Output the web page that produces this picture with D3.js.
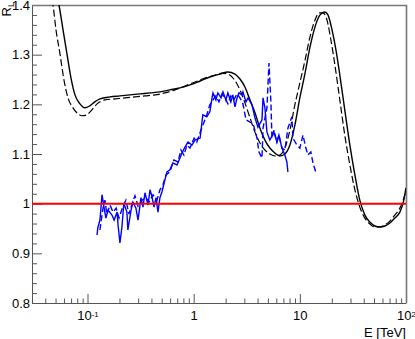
<!DOCTYPE html>
<html>
<head>
<meta charset="utf-8">
<script src="https://cdn.jsdelivr.net/npm/d3@7"></script>
<style>
  body { margin: 0; background: #fff; }
  svg { display: block; font-family: "Liberation Sans", Arial, sans-serif; }
</style>
</head>
<body>
<div id="chart"></div>
<script>
// energy E in TeV and ratio R_L

// black solid curve
var solidE = [0.0505,0.0539,0.0588,0.0641,0.0699,0.0762,0.0849,0.0946,0.105,0.117,0.131,0.163,0.202,0.251,0.312,0.388,0.481,0.597,0.743,0.923,1.15,1.42,1.77,2.10,2.45,2.73,3.04,3.39,3.78,4.21,4.69,5.22,5.82,6.49,7.23,8.06,8.98,10.0,11.2,12.4,13.9,15.5,17.2,18.4,20.1,21.9,23.8,26.5,29.6,33.0,36.7,41.0,45.7,50.9,56.7,63.2,70.5,78.5,87.5,95.4,99.8];
var solidR = [1.43,1.40,1.35,1.301,1.253,1.219,1.201,1.193,1.197,1.205,1.211,1.215,1.217,1.219,1.221,1.223,1.225,1.229,1.233,1.239,1.247,1.255,1.261,1.265,1.261,1.251,1.235,1.209,1.183,1.152,1.128,1.112,1.102,1.096,1.100,1.118,1.158,1.213,1.263,1.313,1.356,1.380,1.386,1.380,1.350,1.309,1.259,1.189,1.118,1.058,1.007,0.977,0.963,0.955,0.953,0.955,0.961,0.971,0.983,1.007,1.032];

// black dashed curve
var dashE = [0.0443,0.0473,0.0505,0.0551,0.0600,0.0655,0.0730,0.0813,0.0887,0.0989,0.110,0.123,0.146,0.182,0.225,0.280,0.348,0.432,0.536,0.667,0.828,1.03,1.28,1.59,1.85,2.10,2.39,2.73,3.04,3.39,3.78,4.21,4.69,5.22,5.82,6.49,7.23,8.06,8.98,10.0,11.2,12.4,13.9,15.2,16.5,18.0,19.6,21.4,23.8,26.5,29.6,33.0,36.7,41.0,45.7,50.9,56.7,63.2,70.5,78.5,87.5,95.4,99.8];
var dashR = [1.43,1.40,1.35,1.301,1.249,1.213,1.193,1.181,1.177,1.179,1.189,1.201,1.209,1.211,1.213,1.215,1.217,1.219,1.223,1.229,1.237,1.245,1.253,1.259,1.263,1.261,1.251,1.229,1.203,1.173,1.144,1.122,1.108,1.100,1.096,1.098,1.112,1.148,1.199,1.243,1.289,1.334,1.370,1.384,1.384,1.370,1.330,1.279,1.209,1.138,1.078,1.028,0.993,0.971,0.959,0.953,0.953,0.957,0.965,0.977,0.991,1.011,1.028];

// blue solid (measured)
var blueE = [0.123,0.125,0.131,0.137,0.143,0.149,0.156,0.170,0.178,0.190,0.194,0.202,0.211,0.220,0.235,0.240,0.257,0.268,0.286,0.299,0.319,0.333,0.348,0.371,0.388,0.405,0.423,0.442,0.461,0.481,0.503,0.536,0.560,0.597,0.637,0.696,0.743,0.776,0.828,0.884,0.964,1.03,1.15,1.22,1.33,1.42,1.49,1.52,1.62,1.69,1.81,1.89,2.01,2.10,2.24,2.34,2.45,2.56,2.67,2.85,2.91,3.11,3.25,3.54,3.78,4.03,4.40,4.50,4.69,4.90,5.22,5.70,6.08,6.35,6.78,7.23,7.55,7.72];
var blueR = [0.937,0.951,0.967,1.018,0.993,0.971,0.987,0.977,0.967,0.983,0.957,0.921,0.953,1.001,0.983,0.947,0.987,1.003,0.991,0.967,1.012,0.993,1.022,0.997,1.028,1.014,0.993,1.012,0.983,1.012,1.024,1.048,1.064,1.068,1.082,1.078,1.092,1.102,1.114,1.124,1.118,1.128,1.132,1.179,1.175,1.185,1.213,1.223,1.209,1.223,1.213,1.225,1.209,1.223,1.205,1.219,1.195,1.213,1.223,1.219,1.225,1.205,1.213,1.199,1.173,1.154,1.169,1.213,1.193,1.144,1.128,1.144,1.124,1.138,1.112,1.098,1.084,1.064];

// blue dashed (measured)
var blueDashE = [0.131,0.134,0.140,0.146,0.152,0.163,0.174,0.186,0.198,0.216,0.230,0.246,0.262,0.280,0.299,0.326,0.355,0.379,0.414,0.451,0.481,0.514,0.548,0.597,0.651,0.711,0.759,0.810,0.865,0.923,1.01,1.07,1.17,1.25,1.33,1.42,1.52,1.62,1.73,1.85,1.97,2.10,2.24,2.39,2.56,2.73,2.91,3.11,3.39,3.62,3.95,4.12,4.40,4.50,4.90,5.12,5.34,5.46,5.70,6.08,6.35,6.78,7.23,7.72,8.42,8.60,9.38,10.0,10.7,11.4,11.9,12.7,13.3,14.2];
var blueDashR = [0.947,0.963,0.991,1.007,0.979,0.997,0.983,0.991,0.971,0.995,1.007,0.979,0.999,1.016,0.995,1.007,1.012,1.003,1.018,1.007,1.028,1.038,1.058,1.064,1.088,1.084,1.108,1.098,1.118,1.112,1.132,1.124,1.148,1.164,1.179,1.199,1.209,1.217,1.205,1.221,1.213,1.201,1.217,1.209,1.221,1.213,1.201,1.169,1.164,1.162,1.132,1.104,1.092,1.152,1.193,1.283,1.205,1.132,1.148,1.124,1.138,1.112,1.108,1.152,1.175,1.132,1.118,1.112,1.138,1.112,1.098,1.104,1.082,1.062];

// reference level
var refLevel = 1;

// axes
var yMajor = [0.8, 0.9, 1, 1.1, 1.2, 1.3, 1.4];
var yLabels = ["0.8", "0.9", "1", "1.1", "1.2", "1.3", "1.4"];
var xMajor = [0.1, 1, 10, 100];
var xLabelBase = ["10", "1", "10", "10"];
var xLabelExp = ["-1", "", "", "2"];

var W = 415, H = 339;
var padL = 32, padR = 406, padT = 5, padB = 303;

var svg = d3.select("#chart").append("svg")
    .attr("width", W)
    .attr("height", H);

var x = d3.scaleLog().domain([0.03, 100]).range([padL, padR]);
var y = d3.scaleLinear().domain([0.8, 1.4]).range([padB, padT]);

// minor ticks
var xMinor = [];
[0.01, 0.1, 1, 10].forEach(function (dec) {
    for (var k = 2; k <= 9; k++) {
        var v = dec * k;
        if (v > 0.03 && v < 100) xMinor.push(v);
    }
});
var yMinor = d3.range(0.82, 1.4, 0.02).filter(function (v) {
    return Math.abs(v * 10 - Math.round(v * 10)) > 0.01;
});

var axisColor = "#555";

// x axis
svg.append("g")
    .attr("transform", "translate(0," + padB + ")")
    .call(d3.axisBottom(x).tickValues(xMinor).tickSize(-4.5).tickSizeOuter(0).tickFormat(""))
    .call(function (g) { g.select(".domain").remove(); })
    .selectAll("line").attr("stroke", axisColor);

var gx = svg.append("g")
    .attr("transform", "translate(0," + padB + ")")
    .call(d3.axisBottom(x).tickValues(xMajor).tickSize(-9).tickSizeOuter(0).tickPadding(8)
        .tickFormat(function () { return ""; }));
gx.select(".domain").attr("stroke", axisColor);
gx.selectAll("line").attr("stroke", axisColor);
gx.selectAll(".tick text")
    .style("font-size", "13px")
    .style("font-family", "'Liberation Sans', Arial, sans-serif")
    .attr("fill", "#000")
    .each(function (d, i) {
        var t = d3.select(this);
        t.append("tspan").text(xLabelBase[i]);
        if (xLabelExp[i]) {
            t.append("tspan").attr("dy", "-0.45em").style("font-size", "8px").text(xLabelExp[i]);
        }
    });

// y axis
svg.append("g")
    .attr("transform", "translate(" + padL + ",0)")
    .call(d3.axisLeft(y).tickValues(yMinor).tickSize(-5).tickSizeOuter(0).tickFormat(""))
    .call(function (g) { g.select(".domain").remove(); })
    .selectAll("line").attr("stroke", axisColor);

var gy = svg.append("g")
    .attr("transform", "translate(" + padL + ",0)")
    .call(d3.axisLeft(y).tickValues(yMajor).tickSize(-10).tickSizeOuter(0).tickPadding(2)
        .tickFormat(function (d, i) { return yLabels[i]; }));
gy.select(".domain").attr("stroke", axisColor);
gy.selectAll("line").attr("stroke", axisColor);
gy.selectAll(".tick text")
    .style("font-size", "13px")
    .style("font-family", "'Liberation Sans', Arial, sans-serif")
    .attr("fill", "#000");

// frame top and right
svg.append("path")
    .attr("d", "M" + padL + "," + (padT + 0.5) + "H" + (padR + 0.5) + "V" + padB)
    .attr("fill", "none")
    .attr("stroke", "#777")
    .attr("stroke-width", 1.6);

// clip region
svg.append("clipPath").attr("id", "clip")
    .append("rect")
    .attr("x", padL).attr("y", padT)
    .attr("width", padR - padL).attr("height", padB - padT);

var plot = svg.append("g").attr("clip-path", "url(#clip)");

function pts(es, rs) {
    return es.map(function (e, i) { return [e, rs[i]]; });
}

var smooth = d3.line()
    .x(function (d) { return x(d[0]); })
    .y(function (d) { return y(d[1]); })
    .curve(d3.curveMonotoneX);

var jagged = d3.line()
    .x(function (d) { return x(d[0]); })
    .y(function (d) { return y(d[1]); });

plot.append("path")
    .datum(pts(solidE, solidR))
    .attr("d", smooth)
    .attr("fill", "none")
    .attr("stroke", "#000")
    .attr("stroke-width", 1.4);

plot.append("path")
    .datum(pts(dashE, dashR))
    .attr("d", smooth)
    .attr("fill", "none")
    .attr("stroke", "#000")
    .attr("stroke-width", 1.2)
    .attr("stroke-dasharray", "7,3");

plot.append("path")
    .datum(pts(blueE, blueR))
    .attr("d", jagged)
    .attr("fill", "none")
    .attr("stroke", "#0000ff")
    .attr("stroke-width", 1.4);

plot.append("path")
    .datum(pts(blueDashE, blueDashR))
    .attr("d", jagged)
    .attr("fill", "none")
    .attr("stroke", "#0000ff")
    .attr("stroke-width", 1.4)
    .attr("stroke-dasharray", "6,3");

// red line at 1
plot.append("line")
    .attr("x1", padL).attr("x2", padR)
    .attr("y1", y(refLevel)).attr("y2", y(refLevel))
    .attr("stroke", "#ff0000")
    .attr("stroke-width", 2);

// axis titles
svg.append("text")
    .attr("x", padR)
    .attr("y", 337)
    .attr("text-anchor", "end")
    .style("font-size", "13px")
    .text("E [TeV]");

var yt = svg.append("text")
    .attr("transform", "translate(11,2) rotate(-90)")
    .attr("text-anchor", "end")
    .style("font-size", "13px");
yt.append("tspan").text("R");
yt.append("tspan").attr("dy", "0.3em").style("font-size", "9px").text("L");
</script>
</body>
</html>
